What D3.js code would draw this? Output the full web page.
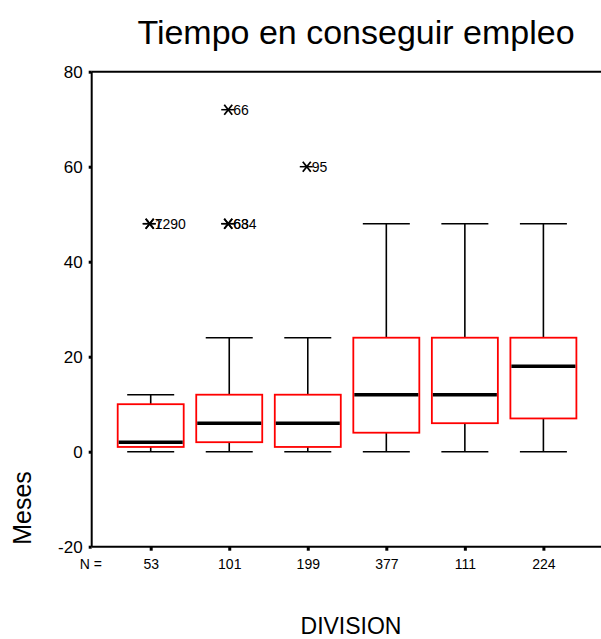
<!DOCTYPE html>
<html>
<head>
<meta charset="utf-8">
<script src="https://cdn.jsdelivr.net/npm/d3@7"></script>
<style>
  html, body { margin: 0; padding: 0; background: #fff; }
  svg { display: block; font-family: "Liberation Sans", Arial, sans-serif; }
</style>
</head>
<body>
<svg id="chart" width="601" height="639"></svg>
<script>
// ---- Data ----
const groups    = ["G1", "G2", "G3", "G4", "G5", "G6"];
const nLabels   = ["53", "101", "199", "377", "111", "224"];
const whiskLow  = [0, 0, 0, 0, 0, 0];
const q1        = [1, 2, 1, 4, 6, 7];
const medians   = [2, 6, 6, 12, 12, 18];
const q3        = [10, 12, 12, 24, 24, 24];
const whiskHigh = [12, 24, 24, 48, 48, 48];

const outlierGroup = ["G1", "G1", "G2", "G2", "G2", "G3"];
const outlierValue = [48, 48, 48, 48, 72, 60];
const outlierLabel = ["7", "1290", "68", "634", "66", "95"];

const yTicks = [-20, 0, 20, 40, 60, 80];

const title  = "Tiempo en conseguir empleo";
const xTitle = "DIVISION";
const yTitle = "Meses";

(function () {
// ---- Layout ----
const svg = d3.select("#chart");
const pLeft = 91.7, pTop = 71.7, pBottom = 546.7, pRight = 601;

const y = d3.scaleLinear().domain([-20, 80]).range([pBottom, pTop]);
const x = d3.scalePoint().domain(groups).range([150.7, 543.4]);

const boxW = 66, capW = 47;

// frame lines (top, bottom)
svg.append("line").attr("x1", pLeft).attr("x2", pRight).attr("y1", pTop).attr("y2", pTop)
  .attr("stroke", "#000").attr("stroke-width", 2);
svg.append("line").attr("x1", pLeft).attr("x2", pRight).attr("y1", pBottom).attr("y2", pBottom)
  .attr("stroke", "#000").attr("stroke-width", 2);

// y axis
const yAxis = d3.axisLeft(y).tickValues(yTicks).tickSize(3).tickPadding(6).tickFormat(d => String(d));
const gy = svg.append("g").attr("transform", `translate(${pLeft},0)`).call(yAxis);
gy.select(".domain").attr("stroke", "#000").attr("stroke-width", 2).attr("d", `M0,${pTop}V${pBottom}`);
gy.selectAll(".tick line").attr("stroke", "#000").attr("stroke-width", 3);
gy.selectAll(".tick text").attr("font-size", 17).attr("fill", "#000")
  .attr("font-family", "Liberation Sans, Arial, sans-serif");

// x axis (N labels)
const xAxis = d3.axisBottom(x).tickSize(4).tickPadding(8).tickFormat((d, i) => nLabels[i]);
const gx = svg.append("g").attr("transform", `translate(0,${pBottom})`).call(xAxis);
gx.select(".domain").remove();
gx.selectAll(".tick line").attr("stroke", "#000").attr("stroke-width", 3);
gx.selectAll(".tick text").attr("font-size", 14).attr("fill", "#000")
  .attr("font-family", "Liberation Sans, Arial, sans-serif");

svg.append("text").attr("x", 102).attr("y", pBottom + 22).attr("text-anchor", "end")
  .attr("font-size", 14).text("N =");

// boxes
const boxes = groups.map((g, i) => ({ g, lo: whiskLow[i], q1: q1[i], med: medians[i], q3: q3[i], hi: whiskHigh[i] }));
const bg = svg.append("g").selectAll("g").data(boxes).join("g");

bg.append("line").attr("x1", d => x(d.g)).attr("x2", d => x(d.g))
  .attr("y1", d => y(d.hi)).attr("y2", d => y(d.q3)).attr("stroke", "#000").attr("stroke-width", 1.6);
bg.append("line").attr("x1", d => x(d.g)).attr("x2", d => x(d.g))
  .attr("y1", d => y(d.q1)).attr("y2", d => y(d.lo)).attr("stroke", "#000").attr("stroke-width", 1.6);
bg.append("line").attr("x1", d => x(d.g) - capW / 2).attr("x2", d => x(d.g) + capW / 2)
  .attr("y1", d => y(d.hi)).attr("y2", d => y(d.hi)).attr("stroke", "#000").attr("stroke-width", 1.6);
bg.append("line").attr("x1", d => x(d.g) - capW / 2).attr("x2", d => x(d.g) + capW / 2)
  .attr("y1", d => y(d.lo)).attr("y2", d => y(d.lo)).attr("stroke", "#000").attr("stroke-width", 1.6);

bg.append("rect").attr("x", d => x(d.g) - boxW / 2).attr("width", boxW)
  .attr("y", d => y(d.q3)).attr("height", d => y(d.q1) - y(d.q3))
  .attr("fill", "#fff").attr("stroke", "#ff0000").attr("stroke-width", 1.8);

bg.append("line").attr("x1", d => x(d.g) - boxW / 2 + 1).attr("x2", d => x(d.g) + boxW / 2 - 1)
  .attr("y1", d => y(d.med)).attr("y2", d => y(d.med)).attr("stroke", "#000").attr("stroke-width", 3.6);

// outliers (extreme markers)
const outs = outlierGroup.map((g, i) => ({ g, v: outlierValue[i], lab: outlierLabel[i] }));
const og = svg.append("g").selectAll("g").data(outs).join("g")
  .attr("transform", d => `translate(${x(d.g) - 1},${y(d.v)})`);
og.append("line").attr("x1", -7).attr("x2", 6).attr("y1", 0).attr("y2", 0).attr("stroke", "#000").attr("stroke-width", 1.5);
og.append("line").attr("x1", -4).attr("x2", 4).attr("y1", -5).attr("y2", 5).attr("stroke", "#000").attr("stroke-width", 1.8);
og.append("line").attr("x1", -4).attr("x2", 4).attr("y1", 5).attr("y2", -5).attr("stroke", "#000").attr("stroke-width", 1.8);
og.append("text").attr("x", 5).attr("y", 5).attr("font-size", 14).attr("fill", "#000").text(d => d.lab);

// titles
svg.append("text").attr("x", 356).attr("y", 44).attr("text-anchor", "middle")
  .attr("font-size", 34).attr("fill", "#000").text(title);
svg.append("text").attr("x", 351).attr("y", 634).attr("text-anchor", "middle")
  .attr("font-size", 23).attr("fill", "#000").text(xTitle);
svg.append("text").attr("transform", "translate(31,508) rotate(-90)").attr("text-anchor", "middle")
  .attr("font-size", 25).attr("fill", "#000").text(yTitle);
})();
</script>
</body>
</html>
